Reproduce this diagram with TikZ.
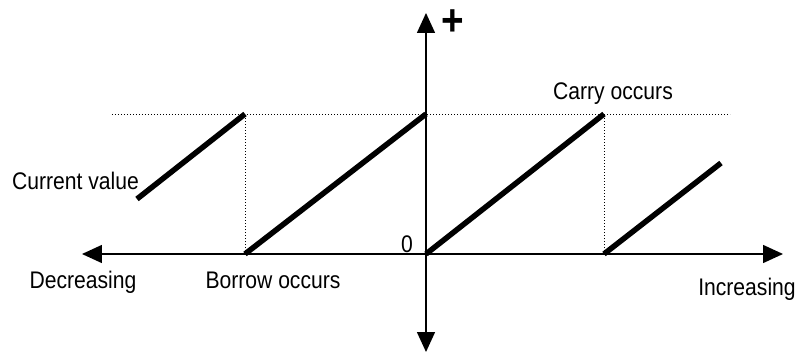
\documentclass[tikz,border=0pt]{standalone}
\usepackage{fontspec}
\setmainfont{Liberation Sans}[FakeStretch=0.88]
\usetikzlibrary{arrows.meta,positioning}

\begin{document}
\begin{tikzpicture}[
        x=1pt, y=1pt,
        font=\fontsize{24}{28}\selectfont,
        axis/.style={{Triangle[length=20pt,width=18pt]}-{Triangle[length=20pt,width=18pt]}, line width=1.5pt},
        ramp/.style={line width=5.5pt},
        guide/.style={line width=0.9pt, dash pattern=on 1pt off 2pt},
        txt/.style={inner sep=0pt, anchor=base}
    ]
    \useasboundingbox (-426,-99) rectangle (373,254);

    % axes
    \coordinate (O) at (0,0);
    \coordinate (xmin) at (-344,0);
    \coordinate (xmax) at (357,0);
    \coordinate (ymin) at (0,-98);
    \coordinate (ymax) at (0,241);
    \draw[axis] (xmin) -- (xmax);
    \draw[axis] (ymin) -- (ymax);

    % maximum value line
    \coordinate (topL) at (-314,140);
    \coordinate (topR) at (304,140);
    \draw[guide] (topL) -- (topR);

    % ramps of the count value
    \coordinate (r1s) at (-289,55);
    \coordinate (r1e) at (-181,140);
    \coordinate (r2s) at (-181,0);
    \coordinate (r2e) at (0,140);
    \coordinate (r3e) at (178,140);
    \coordinate (r4s) at (178,0);
    \coordinate (r4e) at (295,91);
    \foreach \a/\b in {r1s/r1e,r2s/r2e,O/r3e,r4s/r4e} {
        \draw[ramp] (\a) -- (\b);
    }
    \foreach \a/\b in {r2s/r1e,r4s/r3e} {
        \draw[guide] (\a) -- (\b);
    }

    % labels
    \node[txt, anchor=base east] (cur) at (-287,64) {Current value};
    \node[txt] (dec) at (-343,-34) {Decreasing};
    \node[txt] (bor) at (-153,-34) {Borrow occurs};
    \node[txt, anchor=base east] (zero) at (-13,2) {0};
    \node[txt] (inc) at (321,-41) {Increasing};
    \node[txt] (car) at (187,154) {Carry occurs};
    \node[font=\fontsize{44}{44}\bfseries\selectfont, inner sep=0pt] (plus) at (27,231) {+};
\end{tikzpicture}
\end{document}
